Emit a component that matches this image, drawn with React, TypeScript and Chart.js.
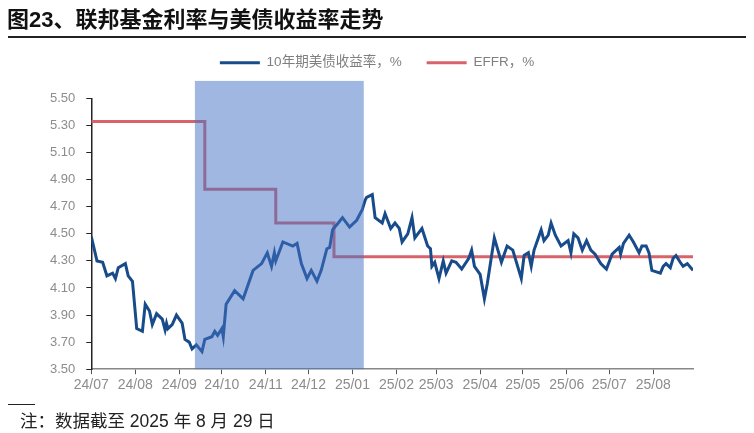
import React, { useEffect, useRef } from "react";
import { Chart, registerables } from "chart.js";

Chart.register(...registerables);

const START = "2024-07-01";

const yieldDates = [
  "2024-07-01","2024-07-05","2024-07-09","2024-07-12","2024-07-16","2024-07-18","2024-07-20","2024-07-25","2024-07-27","2024-07-30",
  "2024-08-02","2024-08-06","2024-08-08","2024-08-11","2024-08-13","2024-08-16","2024-08-20","2024-08-22","2024-08-23","2024-08-24",
  "2024-08-27","2024-08-30","2024-09-03","2024-09-05","2024-09-08","2024-09-10","2024-09-13","2024-09-17","2024-09-19","2024-09-24",
  "2024-09-26","2024-09-28","2024-10-01","2024-10-02","2024-10-04","2024-10-10","2024-10-16","2024-10-23","2024-10-29","2024-11-02",
  "2024-11-05","2024-11-07","2024-11-08","2024-11-13","2024-11-20","2024-11-23","2024-11-26","2024-11-30","2024-12-03","2024-12-07",
  "2024-12-10","2024-12-14","2024-12-16","2024-12-18","2024-12-22","2024-12-25","2024-12-30","2025-01-04","2025-01-08","2025-01-10",
  "2025-01-11","2025-01-15","2025-01-17","2025-01-22","2025-01-24","2025-01-28","2025-01-31","2025-02-03","2025-02-05","2025-02-09",
  "2025-02-12","2025-02-14","2025-02-19","2025-02-23","2025-02-25","2025-02-26","2025-02-28","2025-03-03","2025-03-06","2025-03-08",
  "2025-03-12","2025-03-15","2025-03-19","2025-03-24","2025-03-26","2025-03-28","2025-04-01","2025-04-04","2025-04-06","2025-04-11",
  "2025-04-16","2025-04-20","2025-04-24","2025-04-30","2025-05-02","2025-05-05","2025-05-07","2025-05-09","2025-05-12","2025-05-14",
  "2025-05-16","2025-05-19","2025-05-21","2025-05-24","2025-05-28","2025-06-02","2025-06-04","2025-06-06","2025-06-09","2025-06-12",
  "2025-06-15","2025-06-18","2025-06-21","2025-06-25","2025-06-27","2025-06-29","2025-07-03","2025-07-08","2025-07-09","2025-07-11",
  "2025-07-15","2025-07-18","2025-07-22","2025-07-24","2025-07-27","2025-07-29","2025-07-31","2025-08-06","2025-08-08","2025-08-10",
  "2025-08-13","2025-08-15","2025-08-17","2025-08-20","2025-08-22","2025-08-25","2025-08-29",
];

const yieldValues = [
  4.48,4.30,4.29,4.19,4.21,4.17,4.25,4.28,4.19,4.15,
  3.80,3.78,3.98,3.93,3.83,3.91,3.87,3.79,3.84,3.80,
  3.83,3.90,3.84,3.72,3.70,3.65,3.68,3.63,3.72,3.74,
  3.78,3.75,3.80,3.74,3.98,4.08,4.02,4.23,4.28,4.36,
  4.26,4.36,4.30,4.44,4.41,4.43,4.28,4.17,4.23,4.15,
  4.23,4.39,4.40,4.53,4.58,4.62,4.55,4.60,4.68,4.75,
  4.77,4.79,4.62,4.58,4.65,4.54,4.58,4.54,4.44,4.50,
  4.62,4.47,4.54,4.41,4.39,4.26,4.29,4.17,4.30,4.21,
  4.30,4.29,4.24,4.32,4.38,4.26,4.20,4.02,4.13,4.47,
  4.29,4.41,4.38,4.17,4.34,4.36,4.26,4.38,4.47,4.53,
  4.45,4.49,4.58,4.49,4.41,4.45,4.36,4.50,4.47,4.38,
  4.45,4.38,4.35,4.28,4.26,4.24,4.35,4.40,4.35,4.43,
  4.49,4.44,4.36,4.41,4.41,4.36,4.23,4.21,4.26,4.28,
  4.25,4.32,4.34,4.29,4.26,4.28,4.23,
];

const effrDates = ["2024-07-01", "2024-09-19", "2024-11-08", "2024-12-19", "2025-08-29"];
const effrValues = [5.33, 4.83, 4.58, 4.33, 4.33];

const shadeStart = "2024-09-12";
const shadeEnd = "2025-01-09";

const monthTicks = [
  "2024-07-01","2024-08-01","2024-09-01","2024-10-01","2024-11-01","2024-12-01","2025-01-01",
  "2025-02-01","2025-03-01","2025-04-01","2025-05-01","2025-06-01","2025-07-01","2025-08-01",
];
const monthLabels = [
  "24/07","24/08","24/09","24/10","24/11","24/12","25/01",
  "25/02","25/03","25/04","25/05","25/06","25/07","25/08",
];

const seriesNames = ["10年期美债收益率，%", "EFFR，%"];

const Y_MIN = 3.5;
const Y_MAX = 5.5;
const Y_STEP = 0.2;
const SHADE_TOP = 5.63;

const dayOf = (s: string) =>
  Math.round((Date.parse(s + "T00:00:00Z") - Date.parse(START + "T00:00:00Z")) / 86400000);

const FONT = '"Liberation Sans", Arial, "Noto Sans CJK SC", sans-serif';

export default function App() {
  const ref = useRef<HTMLCanvasElement | null>(null);

  useEffect(() => {
    if (!ref.current) return;
    const tickDays = monthTicks.map(dayOf);

    const shadePlugin = {
      id: "shade",
      afterDatasetsDraw(chart: any) {
        const { ctx, scales } = chart;
        const x0 = scales.x.getPixelForValue(dayOf(shadeStart));
        const x1 = scales.x.getPixelForValue(dayOf(shadeEnd));
        const y0 = scales.y.getPixelForValue(SHADE_TOP);
        const y1 = scales.y.getPixelForValue(Y_MIN);
        ctx.save();
        ctx.fillStyle = "rgba(68,114,196,0.51)";
        ctx.fillRect(x0, y0, x1 - x0, y1 - y0);
        ctx.restore();
      },
    };

    const legendSpace = {
      id: "legendSpace",
      beforeInit(chart: any) {
        const orig = chart.legend.fit;
        chart.legend.fit = function () {
          orig.bind(chart.legend)();
          this.height += 19;
        };
      },
      afterLayout(chart: any) {
        // centre the legend on the full canvas width rather than the padded box
        const lg = chart.legend;
        const shift = chart.width / 2 - (lg.left + lg.right) / 2;
        lg.left += shift;
        lg.right += shift;
      },
    };

    const chart = new Chart(ref.current, {
      type: "line",
      data: {
        datasets: [
          {
            label: seriesNames[0],
            data: yieldDates.map((d, i) => ({ x: dayOf(d), y: yieldValues[i] })),
            borderColor: "#184b8a",
            backgroundColor: "#184b8a",
            borderWidth: 3,
            pointRadius: 0,
            tension: 0,
          },
          {
            label: seriesNames[1],
            data: effrDates.map((d, i) => ({ x: dayOf(d), y: effrValues[i] })),
            borderColor: "#d9636a",
            backgroundColor: "#d9636a",
            borderWidth: 3,
            pointRadius: 0,
            stepped: "before",
          },
        ],
      },
      options: {
        animation: false,
        responsive: false,
        devicePixelRatio: 1,
        layout: { padding: { top: 31, left: 39, right: 61, bottom: 36 } },
        plugins: {
          legend: {
            display: true,
            position: "top",
            labels: {
              usePointStyle: true,
              pointStyle: "line",
              pointStyleWidth: 40,
              boxHeight: 3,
              padding: 25,
              color: "#7f7f7f",
              font: { size: 13.5, family: FONT },
            },
          },
          tooltip: { enabled: false },
        },
        scales: {
          x: {
            type: "linear",
            min: 0,
            max: dayOf(yieldDates[yieldDates.length - 1]),
            afterBuildTicks(scale: any) {
              scale.ticks = tickDays.map((v) => ({ value: v }));
            },
            ticks: {
              autoSkip: false,
              maxRotation: 0,
              padding: 3,
              color: "#8c8c8c",
              font: { size: 14, family: FONT },
              callback: (v: any) => {
                const i = tickDays.indexOf(Number(v));
                return i >= 0 ? monthLabels[i] : "";
              },
            },
            grid: { drawOnChartArea: false, drawTicks: true, tickLength: 5, color: "#555" },
            border: { display: true, color: "#888", width: 1.5 },
          },
          y: {
            min: Y_MIN,
            max: Y_MAX,
            ticks: {
              stepSize: Y_STEP,
              padding: 11,
              color: "#8c8c8c",
              font: { size: 13, family: FONT },
              callback: (v: any) => Number(v).toFixed(2),
            },
            grid: { drawOnChartArea: false, drawTicks: true, tickLength: 5, color: "#222" },
            border: { display: true, color: "#222", width: 1.5 },
          },
        },
      },
      plugins: [shadePlugin, legendSpace],
    } as any);
    return () => chart.destroy();
  }, []);

  return (
    <div style={{ position: "absolute", left: 0, top: 0, width: 754, height: 433, background: "#fff", overflow: "hidden" }}>
      <canvas ref={ref} width={754} height={433} style={{ position: "absolute", left: 0, top: 0 }} />
      <div
        style={{
          position: "absolute",
          left: 7,
          top: 6,
          fontFamily: FONT,
          fontWeight: "bold",
          fontSize: 22,
          lineHeight: "28px",
          color: "#111",
          whiteSpace: "nowrap",
        }}
      >
        图23、联邦基金利率与美债收益率走势
      </div>
      <div style={{ position: "absolute", left: 8, top: 36, width: 738, height: 2, background: "#222" }} />
      <div style={{ position: "absolute", left: 8, top: 404, width: 27, height: 1, background: "#222" }} />
      <div
        style={{
          position: "absolute",
          left: 20,
          top: 410,
          fontFamily: FONT,
          fontSize: 17.5,
          lineHeight: "22px",
          color: "#222",
          whiteSpace: "nowrap",
        }}
      >
        注：数据截至 2025 年 8 月 29 日
      </div>
    </div>
  );
}
